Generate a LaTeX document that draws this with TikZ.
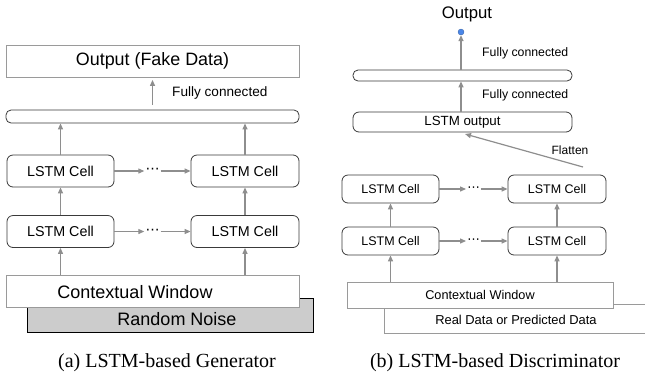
\documentclass[tikz,border=0pt]{standalone}
\usepackage{fontspec}
\setmainfont{Liberation Serif}
\newfontfamily\lsans{Liberation Sans}
\newfontfamily\dejavu{DejaVu Sans}
\usetikzlibrary{arrows.meta,positioning}
\definecolor{arrgray}{HTML}{8E8E8E}
\definecolor{boxedge}{HTML}{3A3A3A}
\definecolor{lightedge}{HTML}{9A9A9A}
\definecolor{noisefill}{HTML}{CCCCCC}
\definecolor{dotblue}{HTML}{4A86E8}
\tikzset{
  arr/.style={draw=arrgray, line width=1.2pt, -{Triangle[length=6pt,width=5pt]}},
  cellbox/.style={draw=boxedge, line width=0.8pt, rounded corners=6pt, fill=white, inner sep=0pt, font=\lsans\fontsize{14.3}{16}\selectfont},
  cellboxs/.style={draw=boxedge, line width=0.8pt, rounded corners=6pt, fill=white, inner sep=0pt, font=\lsans\fontsize{12.5}{14}\selectfont},
  barbox/.style={draw=boxedge, line width=0.8pt, rounded corners=5pt, fill=white, inner sep=0pt},
  flatbox/.style={draw=lightedge, line width=0.8pt, fill=white, inner sep=0pt},
  lbl/.style={inner sep=0pt, font=\lsans\fontsize{13.6}{15}\selectfont},
  lbls/.style={inner sep=0pt, font=\lsans\fontsize{12.3}{14}\selectfont},
  captext/.style={inner sep=0pt, font=\fontsize{20}{22}\selectfont},
  dotsl/.style={inner sep=1pt, font=\dejavu\fontsize{14}{16}\selectfont}
}
\begin{document}
\begin{tikzpicture}[x=1pt,y=-1pt]
\useasboundingbox (0,0) rectangle (645,376);
% ---------------- (a) generator ----------------
\node[flatbox, minimum width=293pt, minimum height=32pt, font=\lsans\fontsize{17.9}{20}\selectfont] (aout) at (152.5,61) {Output (Fake Data)};
\node[barbox, minimum width=293pt, minimum height=13pt] (abar) at (152.5,116.5) {};
\node[lbl, anchor=west] (afc) at (172,93) {Fully connected};
\draw[arr] ([yshift=5pt]abar.north) -- ([yshift=-2.5pt]aout.south);
% cells
\node[cellbox, minimum width=107pt, minimum height=32pt] (a21) at (60.5,171) {LSTM Cell};
\node[cellbox, minimum width=108pt, minimum height=32pt] (a22) at (245,171) {LSTM Cell};
\node[cellbox, minimum width=107pt, minimum height=32pt] (a11) at (60.5,231.5) {LSTM Cell};
\node[cellbox, minimum width=108pt, minimum height=32pt] (a12) at (245,231.5) {LSTM Cell};
\node[dotsl] (ad2) at (152.5,171) {⋯};
\node[dotsl] (ad1) at (152.5,231.5) {⋯};
% noise and window
\node[draw=black, line width=0.8pt, fill=noisefill, minimum width=286pt, minimum height=34pt, inner sep=0pt] (anoise) at (170,315) {};
\node[inner sep=0pt, font=\lsans\fontsize{18}{20}\selectfont] (anoiset) at (177,319) {Random Noise};
\node[flatbox, minimum width=293pt, minimum height=32pt] (awin) at (152.5,291) {};
\node[inner sep=0pt, font=\lsans\fontsize{18}{20}\selectfont] (awint) at (135,292) {Contextual Window};
% arrows
\draw[arr] (a21.north) -- (a21 |- abar.south);
\draw[arr] (a22.north) -- (a22 |- abar.south);
\draw[arr] (a11.north) -- (a21.south);
\draw[arr] (a12.north) -- (a22.south);
\draw[arr] (a11 |- awin.north) -- (a11.south);
\draw[arr] (a12 |- awin.north) -- (a12.south);
\draw[arr] (a21.east) -- (ad2.west |- a21.east);
\draw[arr] (ad2.east |- a22.west) -- (a22.west);
\draw[arr] (a11.east) -- (ad1.west |- a11.east);
\draw[arr] (ad1.east |- a12.west) -- (a12.west);
\node[captext] (capa) at (167,363) {(a)\ LSTM-based Generator};
% ---------------- (b) discriminator ----------------
\node[inner sep=0pt, font=\lsans\fontsize{16.7}{18}\selectfont] (bout) at (467,14) {Output};
\node[circle, fill=dotblue, draw=dotblue!70!black, line width=0.3pt, minimum size=6pt, inner sep=0pt] (bdot) at (461,32) {};
\node[barbox, minimum width=219pt, minimum height=11pt] (bbar) at (462.5,75.5) {};
\node[lbls, anchor=west] (bfc2) at (482,53) {Fully connected};
\node[lbls, anchor=west] (bfc1) at (482,95) {Fully connected};
\node[cellbox, minimum width=219pt, minimum height=20pt, font=\lsans\fontsize{13.3}{15}\selectfont] (blo) at (462.5,122) {LSTM output};
\draw[arr] (bbar.north -| bdot) -- (bdot.south);
\draw[arr] (blo.north -| bdot) -- (bbar.south -| bdot);
% cells
\node[cellboxs, minimum width=97pt, minimum height=28pt] (b21) at (390.5,189) {LSTM Cell};
\node[cellboxs, minimum width=98pt, minimum height=28pt] (b22) at (557,189) {LSTM Cell};
\node[cellboxs, minimum width=97pt, minimum height=28pt] (b11) at (390.5,241) {LSTM Cell};
\node[cellboxs, minimum width=98pt, minimum height=28pt] (b12) at (557,241) {LSTM Cell};
\node[dotsl, font=\dejavu\fontsize{12.5}{14}\selectfont] (bd2) at (473.5,189) {⋯};
\node[dotsl, font=\dejavu\fontsize{12.5}{14}\selectfont] (bd1) at (473.5,241) {⋯};
\draw[arr] (b21.east) -- (bd2.west |- b21.east);
\draw[arr] (bd2.east |- b22.west) -- (b22.west);
\draw[arr] (b11.east) -- (bd1.west |- b11.east);
\draw[arr] (bd1.east |- b12.west) -- (b12.west);
\draw[arr] (b11.north) -- (b21.south);
\draw[arr] (b12.north) -- (b22.south);
% flatten
\coordinate (bfs) at (583,167);
\coordinate (bfe) at (465,134);
\draw[arr] (bfs) -- (bfe);
\node[lbls, font=\lsans\fontsize{12}{14}\selectfont] (bflat) at (570,150) {Flatten};
% real data and window
\draw[draw=lightedge, line width=0.8pt] (646,304) -- (384,304) -- (384,333) -- (646,333);
\node[inner sep=0pt, font=\lsans\fontsize{12.9}{15}\selectfont] (breal) at (516,320) {Real Data or Predicted Data};
\node[flatbox, minimum width=266pt, minimum height=26pt, font=\lsans\fontsize{12.7}{15}\selectfont] (bwin) at (480,295) {Contextual Window};
\draw[arr] (b11 |- bwin.north) -- (b11.south);
\draw[arr] (b12 |- bwin.north) -- (b12.south);
\node[captext] (capb) at (495,363) {(b)\ LSTM-based Discriminator};
\end{tikzpicture}
\end{document}
